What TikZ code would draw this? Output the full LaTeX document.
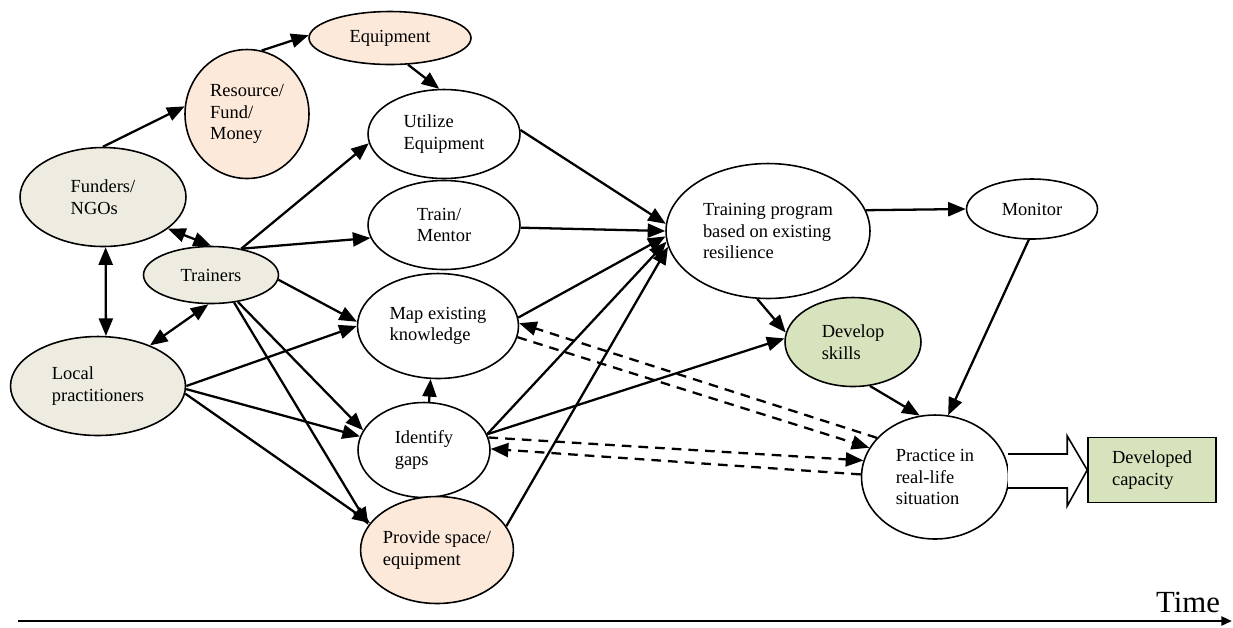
\documentclass[tikz,border=0pt]{standalone}
\usepackage{fontspec}
\setmainfont{Liberation Serif}
\usetikzlibrary{arrows.meta, shapes.geometric}
\definecolor{peach}{HTML}{FDE9D9}
\definecolor{stone}{HTML}{EEECE1}
\definecolor{sage}{HTML}{D7E3BC}
\tikzset{
  bubble/.style = {ellipse, draw, line width=0.9pt, inner sep=0pt, align=left,
                   font=\fontsize{10.5}{12.2}\selectfont},
  flow/.style = {-{Triangle[length=10pt,width=8pt]}, line width=1.3pt},
  twoway/.style = {{Triangle[length=10pt,width=8pt]}-{Triangle[length=10pt,width=8pt]}, line width=1.3pt},
  backflow/.style = {flow, dash pattern=on 5.5pt off 4pt}
}

\begin{document}
\begin{tikzpicture}[x=0.02cm, y=-0.02cm]
\useasboundingbox (0,0) rectangle (1233,627);

% actors and resources
\node[bubble, fill=stone, minimum width=3.32cm, minimum height=1.98cm] (funders) at (103,197) {Funders/\\NGOs};
\node[bubble, fill=peach, minimum width=2.48cm, minimum height=2.58cm] (resource) at (247,114) {Resource/\\Fund/\\Money};
\node[bubble, fill=peach, minimum width=3.24cm, minimum height=1.06cm] (equip) at (390,38) {Equipment};
\node[bubble, fill=stone, minimum width=2.70cm, minimum height=1.14cm] (trainers) at (211,275) {Trainers};
\node[bubble, fill=stone, minimum width=3.50cm, minimum height=1.98cm] (localp) at (98,386) {Local\\practitioners};

% activities
\node[bubble, minimum width=3.04cm, minimum height=1.78cm] (utilize) at (444,134) {Utilize\\Equipment};
\node[bubble, minimum width=3.04cm, minimum height=1.78cm] (trainm) at (444,225) {Train/\\Mentor};
\node[bubble, minimum width=3.22cm, minimum height=2.10cm] (mapk) at (438,326) {Map existing\\knowledge};
\node[bubble, minimum width=2.64cm, minimum height=1.90cm] (gaps) at (424,450) {Identify\\gaps};
\node[bubble, fill=peach, minimum width=2.94cm, minimum height=2.14cm] (space) at (437,550) {Provide space/\\equipment};

% outcomes
\node[bubble, minimum width=4.08cm, minimum height=2.70cm] (program) at (768,231) {Training program\\based on existing\\resilience};
\node[bubble, minimum width=2.62cm, minimum height=1.20cm] (monitor) at (1032,209) {Monitor};
\node[bubble, fill=sage, minimum width=2.72cm, minimum height=1.78cm] (skills) at (853,342) {Develop\\skills};
\node[bubble, minimum width=2.94cm, minimum height=2.48cm] (practice) at (935,477) {Practice in\\real-life\\situation};
\node[draw, fill=sage, line width=0.9pt, minimum width=2.56cm, minimum height=1.30cm, align=left,
      font=\fontsize{10.5}{12.2}\selectfont] (capacity) at (1152,470) {Developed\\capacity};

% links
\draw[flow] (funders.north) -- (resource.173);
\draw[flow] (resource.77) -- (equip.178);
\draw[flow] (equip.-56) -- (utilize.96);
\draw[twoway] (funders.-26) -- (trainers.north);
\draw[twoway] (funders.-87) -- (localp.81);
\draw[twoway] (trainers.-95) -- (localp.38);
\draw[flow] (trainers.41) -- (utilize.187);
\draw[flow] (trainers.41) -- (trainm.190);
\draw[flow] (trainers.-4) -- (mapk.177);
\draw[flow] (trainers.-45) -- (gaps.162);
\draw[flow] (trainers.-50) -- (space.160);
\draw[flow] (localp.east) -- (mapk.180);
\draw[flow] (localp.-2) -- (gaps.168);
\draw[flow] (localp.-5) -- (space.158);
\draw[flow] (gaps.84) -- (mapk.-98);
\draw[flow] (utilize.3) -- (program.176);
\draw[flow] (trainm.-2) -- (program.180);
\draw[flow] (mapk.6) -- (program.183);
\draw[flow] (gaps.14) -- (program.186);
\draw[flow] (space.19) -- (program.189);
\draw[flow] (gaps.14) -- (skills.177);
\draw[flow] (program.-99) -- (skills.172);
\draw[flow] (program.12) -- (monitor.180);
\draw[flow] (monitor.-96) -- (practice.78);
\draw[flow] (skills.-69) -- (practice.104);

% feedback from practice
\draw[backflow] (mapk.-8) -- (practice.156);
\draw[backflow] (practice.146) -- (mapk.2);
\draw[backflow] (gaps.11) -- (practice.167);
\draw[backflow] (practice.178) -- (gaps.1);

% block arrow to the result
\draw[line width=0.9pt, fill=white] (capacity.west) ++(-79,-16) -- ++(59,0) -- ++(0,-18)
  -- (capacity.west) -- ++(-20,36) -- ++(0,-18) -- ++(-59,0);

% time axis
\coordinate (tstart) at (18,621);
\coordinate (tend) at (1232,621);
\draw[-{Triangle[length=6pt,width=5pt]}, line width=1.5pt] (tstart) -- (tend);
\node[anchor=base, font=\fontsize{17.5}{20}\selectfont] (timelbl) at (1188,612) {Time};
\end{tikzpicture}
\end{document}
